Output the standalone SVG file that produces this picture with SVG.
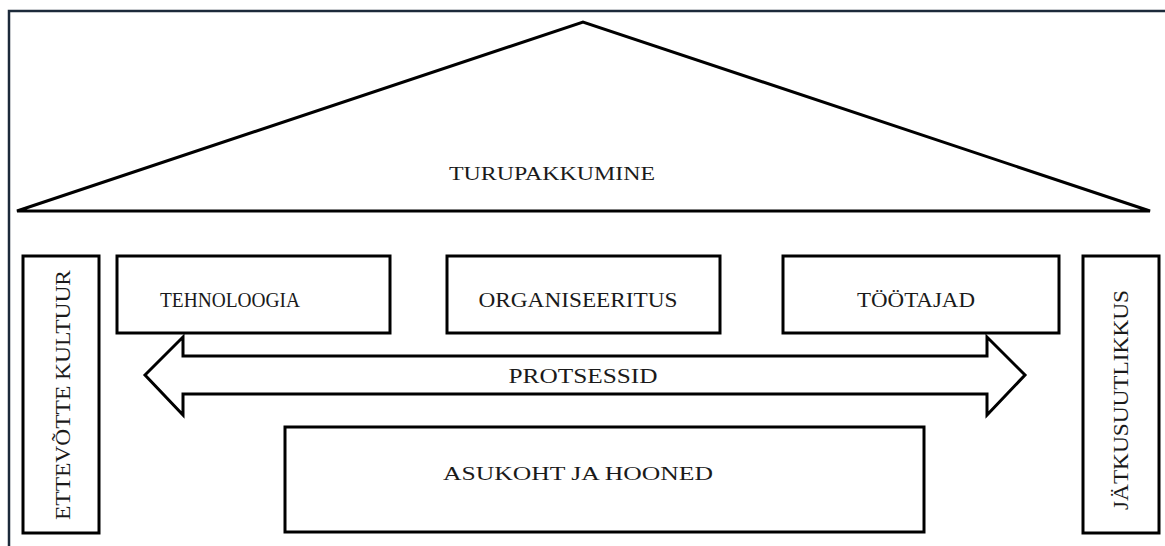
<svg xmlns="http://www.w3.org/2000/svg" width="1165" height="546" viewBox="0 0 1165 546">
<style>
.shape{fill:#fff;stroke:#000;stroke-width:3}
.t{font-family:"Liberation Serif","Times New Roman",serif;font-size:20px;fill:#1a1a1a}
.tt{font-family:"Liberation Serif","Times New Roman",serif;font-size:19px;fill:#1a1a1a}
</style>
<rect x="0" y="0" width="1165" height="546" fill="#fff"/>
<rect x="9" y="11" width="1170" height="560" fill="none" stroke="#1c2a3a" stroke-width="2.5"/>
<g id="roof">
<polygon class="shape" points="17,211 583,22 1150,211"/>
<text class="tt" x="552" y="180" text-anchor="middle" textLength="206" lengthAdjust="spacingAndGlyphs">TURUPAKKUMINE</text>
</g>
<g id="kultuur">
<rect class="shape" x="23" y="256" width="76" height="277"/>
<text class="t" transform="translate(70,395) rotate(-90)" text-anchor="middle" textLength="250" lengthAdjust="spacingAndGlyphs">ETTEVÕTTE KULTUUR</text>
</g>
<g id="tehnoloogia">
<rect class="shape" x="117" y="256" width="273" height="77"/>
<text class="t" x="230" y="307" text-anchor="middle" textLength="140" lengthAdjust="spacingAndGlyphs">TEHNOLOOGIA</text>
</g>
<g id="organiseeritus">
<rect class="shape" x="447" y="256" width="273" height="77"/>
<text class="t" x="578" y="307" text-anchor="middle" textLength="199" lengthAdjust="spacingAndGlyphs">ORGANISEERITUS</text>
</g>
<g id="tootajad">
<rect class="shape" x="783" y="256" width="276" height="77"/>
<text class="t" x="916" y="307" text-anchor="middle" textLength="118" lengthAdjust="spacingAndGlyphs">TÖÖTAJAD</text>
</g>
<g id="jatkusuutlikkus">
<rect class="shape" x="1083" y="256" width="76" height="277"/>
<text class="t" transform="translate(1128,400) rotate(-90)" text-anchor="middle" textLength="220" lengthAdjust="spacingAndGlyphs">JÄTKUSUUTLIKKUS</text>
</g>
<g id="connectors">
<g id="protsessid">
<polygon class="shape" points="145,375 183,337 183,356 987,356 987,337 1025,375 987,415 987,394 183,394 183,415"/>
<text class="t" x="583" y="383" text-anchor="middle" textLength="149" lengthAdjust="spacingAndGlyphs">PROTSESSID</text>
</g>
</g>
<g id="asukoht">
<rect class="shape" x="285" y="427" width="639" height="105"/>
<text class="tt" x="578" y="480" text-anchor="middle" textLength="270" lengthAdjust="spacingAndGlyphs">ASUKOHT JA HOONED</text>
</g>
</svg>
